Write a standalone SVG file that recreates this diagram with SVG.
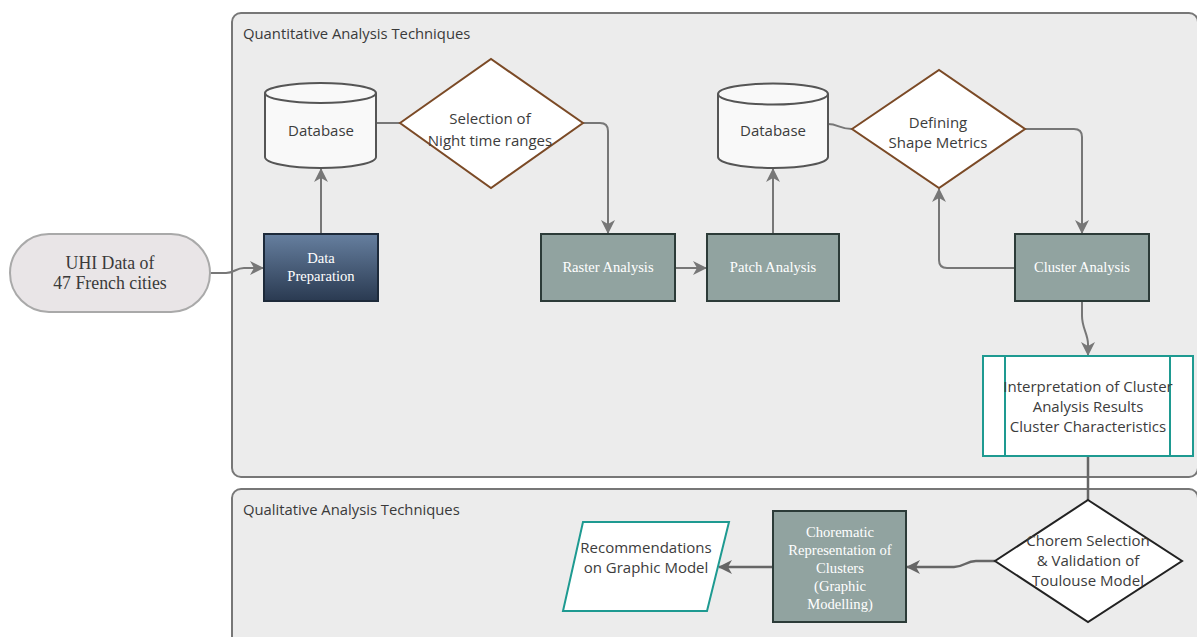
<svg xmlns="http://www.w3.org/2000/svg" width="1197" height="637" viewBox="0 0 1197 637">
  <defs>
    <linearGradient id="gradPrep" x1="0" y1="0" x2="0" y2="1">
      <stop offset="0" stop-color="#667f9f"/>
      <stop offset="1" stop-color="#2a3a51"/>
    </linearGradient>
    <marker id="arrow" viewBox="0 0 14 14" markerWidth="14" markerHeight="14" refX="13" refY="7" orient="auto" markerUnits="userSpaceOnUse">
      <path d="M0,0 L14,7 L0,14 L4,7 Z" fill="#777"/>
    </marker>
    <marker id="arrowDark" viewBox="0 0 14 14" markerWidth="14" markerHeight="14" refX="13" refY="7" orient="auto" markerUnits="userSpaceOnUse">
      <path d="M0,0 L14,7 L0,14 L4,7 Z" fill="#666"/>
    </marker>
  </defs>
  <style>
    .lane { fill: #ececec; stroke: #777; stroke-width: 2; }
    .lane-title { font-family: "Open Sans", "Liberation Sans", sans-serif; font-size: 14.8px; fill: #3a3a3a; }
    .sans { font-family: "Open Sans", "Liberation Sans", sans-serif; font-size: 15px; fill: #3c3c3c; text-anchor: middle; }
    .serif-w { font-family: "Liberation Serif", serif; font-size: 14.6px; fill: #ffffff; text-anchor: middle; }
    .serif-d { font-family: "Liberation Serif", serif; font-size: 17.8px; fill: #3a3a3a; text-anchor: middle; }
    .process { fill: #91a3a0; stroke: #2c3b38; stroke-width: 2; }
    .db { fill: #f9f9f9; stroke: #555; stroke-width: 2; }
    .decision { fill: #ffffff; stroke: #7b4a26; stroke-width: 2; }
    .decision-dark { fill: #ffffff; stroke: #222; stroke-width: 2; }
    .teal { fill: #ffffff; stroke: #1e9a91; stroke-width: 2; }
    .link { fill: none; stroke: #777; stroke-width: 2; }
    .link-dark { fill: none; stroke: #666; stroke-width: 2.5; }
  </style>

  <!-- swimlanes -->
  <g id="lane-quantitative">
    <rect class="lane" x="232" y="13" width="966" height="464" rx="9"/>
    <text class="lane-title" x="243" y="39">Quantitative Analysis Techniques</text>
  </g>
  <g id="lane-qualitative">
    <rect class="lane" x="232" y="489" width="966" height="170" rx="9"/>
    <text class="lane-title" x="243" y="515">Qualitative Analysis Techniques</text>
  </g>

  <!-- connectors -->
  <g id="connectors">
    <path class="link" d="M210,273 H226 C234,273 236,268 244,268 H263" marker-end="url(#arrow)"/>
    <path class="link" d="M321,234 V169" marker-end="url(#arrow)"/>
    <path class="link" d="M376,123 H400"/>
    <path class="link" d="M583,123 H600 Q608,123 608,131 V233" marker-end="url(#arrow)"/>
    <path class="link" d="M675,268 H706" marker-end="url(#arrow)"/>
    <path class="link" d="M773,234 V169" marker-end="url(#arrow)"/>
    <path class="link" d="M828,124 C838,124 840,129 852,129"/>
    <path class="link" d="M1025,129 H1074 Q1082,129 1082,137 V233" marker-end="url(#arrow)"/>
    <path class="link" d="M1015,268 H947 Q939,268 939,260 V189" marker-end="url(#arrow)"/>
    <path class="link" d="M1082,301 V316 C1082,328 1088,334 1088,344 V355" marker-end="url(#arrow)"/>
    <path class="link-dark" d="M1088,456 V500"/>
    <path class="link-dark" d="M995,561 H976 C966,561 964,567 954,567 H907" marker-end="url(#arrowDark)"/>
    <path class="link-dark" d="M773,567 H719" marker-end="url(#arrowDark)"/>
  </g>

  <!-- nodes -->
  <g id="uhi-data">
    <rect x="10" y="234" width="200" height="78" rx="39" fill="#e9e5e7" stroke="#a9a9a9" stroke-width="2"/>
    <text class="serif-d" x="110" y="269">UHI Data of</text>
    <text class="serif-d" x="110" y="289">47 French cities</text>
  </g>

  <g id="data-preparation">
    <rect x="264" y="234" width="114" height="67" fill="url(#gradPrep)" stroke="#1d2a3a" stroke-width="2"/>
    <text class="serif-w" x="321" y="263">Data</text>
    <text class="serif-w" x="321" y="281">Preparation</text>
  </g>

  <g id="database-1">
    <path class="db" d="M265,93 A55.5,10 0 0,1 376,93 V157 A55.5,11 0 0,1 265,157 Z"/>
    <path class="db" d="M265,93 A55.5,10 0 0,0 376,93" fill="none"/>
    <text class="sans" x="321" y="136">Database</text>
  </g>

  <g id="selection-night-time">
    <polygon class="decision" points="400,123 491,59 583,123 491,188"/>
    <text class="sans" x="490" y="124" font-size="16">Selection of</text>
    <text class="sans" x="490" y="146" font-size="16">Night time ranges</text>
  </g>

  <g id="raster-analysis">
    <rect class="process" x="541" y="234" width="134" height="67"/>
    <text class="serif-w" x="608" y="272">Raster Analysis</text>
  </g>

  <g id="patch-analysis">
    <rect class="process" x="707" y="234" width="132" height="67"/>
    <text class="serif-w" x="773" y="272">Patch Analysis</text>
  </g>

  <g id="database-2">
    <path class="db" d="M718,94 A55,10.5 0 0,1 828,94 V157 A55,11 0 0,1 718,157 Z"/>
    <path class="db" d="M718,94 A55,10.5 0 0,0 828,94" fill="none"/>
    <text class="sans" x="773" y="136">Database</text>
  </g>

  <g id="shape-metrics">
    <polygon class="decision" points="852,129 939,70 1025,129 939,188"/>
    <text class="sans" x="938" y="128" font-size="14">Defining</text>
    <text class="sans" x="938" y="148" font-size="14">Shape Metrics</text>
  </g>

  <g id="cluster-analysis">
    <rect class="process" x="1015" y="234" width="134" height="67"/>
    <text class="serif-w" x="1082" y="272">Cluster Analysis</text>
  </g>

  <g id="interpretation">
    <rect class="teal" x="983" y="356" width="210" height="100"/>
    <line x1="1005" y1="356" x2="1005" y2="456" stroke="#1e9a91" stroke-width="2"/>
    <line x1="1170" y1="356" x2="1170" y2="456" stroke="#1e9a91" stroke-width="2"/>
    <text class="sans" x="1088" y="392">Interpretation of Cluster</text>
    <text class="sans" x="1088" y="412">Analysis Results</text>
    <text class="sans" x="1088" y="432">Cluster Characteristics</text>
  </g>

  <g id="chorem-selection">
    <polygon class="decision-dark" points="1088,500 1182,561 1088,622 995,561"/>
    <text class="sans" x="1088" y="546">Chorem Selection</text>
    <text class="sans" x="1088" y="566">&amp; Validation of</text>
    <text class="sans" x="1088" y="586">Toulouse Model</text>
  </g>

  <g id="chorematic-representation">
    <rect class="process" x="773" y="511" width="133" height="111"/>
    <text class="serif-w" x="840" y="537">Chorematic</text>
    <text class="serif-w" x="840" y="555">Representation of</text>
    <text class="serif-w" x="840" y="573">Clusters</text>
    <text class="serif-w" x="840" y="591">(Graphic</text>
    <text class="serif-w" x="840" y="609">Modelling)</text>
  </g>

  <g id="recommendations">
    <polygon class="teal" points="583,522 729,522 707,611 563,611"/>
    <text class="sans" x="646" y="553">Recommendations</text>
    <text class="sans" x="646" y="573">on Graphic Model</text>
  </g>
</svg>
